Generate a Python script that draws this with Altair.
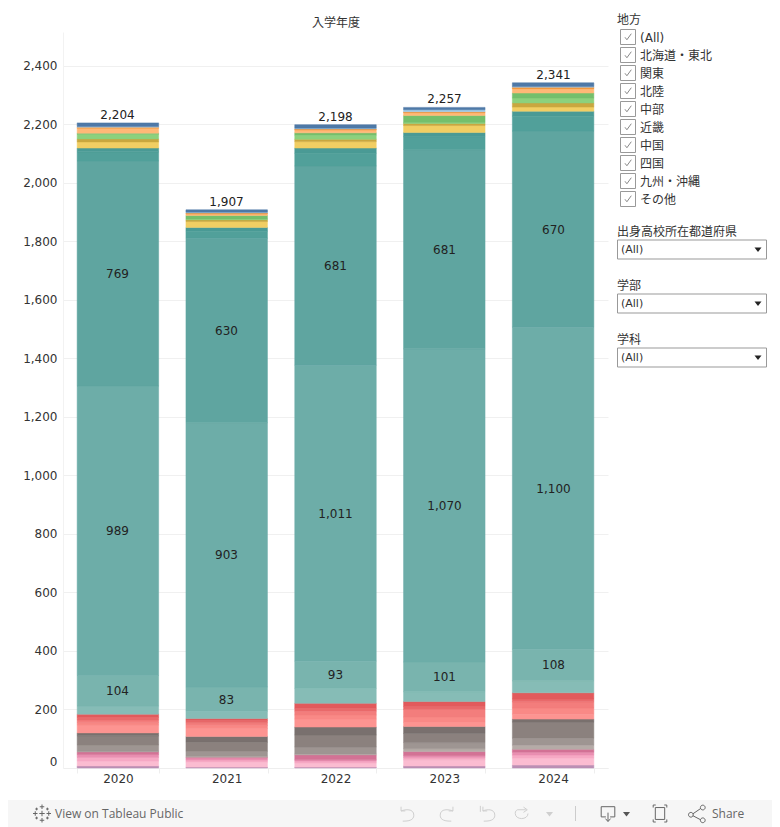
import altair as alt
import pandas as pd

FONT = "DejaVu Sans, Noto Sans CJK JP"
TXT = "#333333"

years = ["2020", "2021", "2022", "2023", "2024"]
totals = [2204, 1907, 2198, 2257, 2341]
segments = ["purple", "pink1", "pink2", "pink3", "pink4", "gray1", "gray2", "gray3", "gray4",
            "red1", "red2", "red3", "red4", "red5", "teal1", "teal2", "teal3", "teal4", "teal5", "teal6",
            "yellow", "gold", "lgreen", "green", "lorange", "orange", "lblue", "blue"]
colors = ["#bb8fb4", "#fbbcd1", "#f6a9c4", "#e98fb1", "#d37295", "#b5aba7", "#9e9592", "#8b817e", "#79706e",
          "#fd9491", "#f98986", "#f37d7c", "#e96a6b", "#e25a5c", "#86bcb6", "#79b4ae", "#6dada8", "#5fa5a0", "#51a09a", "#4a9a95",
          "#f1ce63", "#c9a73f", "#8cd17d", "#74bf6c", "#ffb877", "#f28e2b", "#a0cbe8", "#4e79a7"]
v2020 = [7, 17, 12, 10, 9, 2, 22, 31, 10, 27, 8, 9, 9, 11, 28, 104, 989, 769, 31, 13, 21, 10, 16, 4, 17, 3, 3, 12]
v2021 = [3, 17, 7, 7, 3, 3, 17, 31, 20, 27, 10, 10, 7, 7, 25, 83, 903, 630, 24, 13, 20, 6, 3, 12, 5, 3, 3, 8]
v2022 = [3, 14, 7, 4, 17, 3, 24, 41, 27, 27, 14, 13, 10, 17, 51, 93, 1011, 681, 43, 18, 22, 8, 14, 8, 10, 3, 3, 12]
v2023 = [7, 21, 7, 7, 14, 10, 21, 31, 24, 14, 18, 26, 10, 17, 34, 101, 1070, 681, 44, 14, 24, 7, 3, 24, 10, 3, 7, 8]
v2024 = [10, 24, 10, 10, 10, 14, 24, 55, 10, 17, 21, 21, 10, 21, 41, 108, 1100, 670, 51, 17, 14, 14, 17, 17, 15, 5, 2, 13]
series = [v2020, v2021, v2022, v2023, v2024]
labelled = {"teal2", "teal3", "teal4"}
y_ticks = list(range(0, 2401, 200))

region_items = ["(All)", "北海道・東北", "関東", "北陸", "中部", "近畿", "中国", "四国", "九州・沖縄", "その他"]
filters = ["出身高校所在都道府県", "学部", "学科"]

rows = []
for yr, vals in zip(years, series):
    for i, (s, v) in enumerate(zip(segments, vals)):
        rows.append({"year": yr, "seg": s, "value": v, "order": i, "show": s in labelled})
df = pd.DataFrame(rows)
tot = pd.DataFrame({"year": years, "total": totals})

W, H = 545, 736
OX, OY = 63, 32
xs = alt.Scale(domain=years, paddingInner=27 / 109, paddingOuter=14 / 109)
ys = alt.Scale(domain=[0, H / 0.2927], nice=False, zero=True)
cs = alt.Scale(domain=segments, range=colors)

bars = alt.Chart(df).mark_bar(size=81.5, strokeWidth=0.5).encode(
    x=alt.X("year:N", scale=xs, title=None, axis=alt.Axis(
        labelAngle=0, labelFont=FONT, labelFontSize=12, labelColor=TXT, labelPadding=0,
        tickBand="extent", tickColor="#eeeeee", tickSize=5, domainColor="#eeeeee", grid=False)),
    y=alt.Y("value:Q", stack="zero", scale=ys, title=None, axis=alt.Axis(
        values=y_ticks, labelExpr="format(datum.value, ',')", labelFont=FONT, labelFontSize=12,
        labelColor=TXT, labelPadding=6,
        ticks=False, domainColor="#f2f2f2", grid=True, gridColor="#f0f0f0",
        labelOffset={"condition": {"test": "datum.value === 0", "value": -7}, "value": 0})),
    color=alt.Color("seg:N", scale=cs, legend=None),
    stroke=alt.Stroke("seg:N", scale=cs, legend=None),
    order=alt.Order("order:Q"),
)
seg_labels = alt.Chart(df).transform_stack(
    stack="value", as_=["y0", "y1"], groupby=["year"], sort=[alt.SortField("order")]
).transform_calculate(mid="(datum.y0 + datum.y1) / 2").transform_filter("datum.show").mark_text(
    font=FONT, fontSize=12, color="#222222", dy=0.5
).encode(
    x=alt.X("year:N", scale=xs, axis=None),
    y=alt.Y("mid:Q", scale=ys, axis=None),
    text=alt.Text("value:Q", format=","),
)
tot_labels = alt.Chart(tot).mark_text(font=FONT, fontSize=12, color="#222222", baseline="bottom", dy=-1).encode(
    x=alt.X("year:N", scale=xs, axis=None),
    y=alt.Y("total:Q", scale=ys, axis=None),
    text=alt.Text("total:Q", format=","),
)

def P(x): return x - OX
def Q(y): return y - OY

def rects(data, **style):
    return alt.Chart(pd.DataFrame(data)).mark_rect(**style).encode(
        x=alt.X("x0:Q", scale=None, axis=None), x2="x1:Q",
        y=alt.Y("y0:Q", scale=None, axis=None), y2="y1:Q")

def texts(data, **style):
    base = dict(font=FONT, fontSize=12, color=TXT, align="left", baseline="middle")
    base.update(style)
    return alt.Chart(pd.DataFrame(data)).mark_text(**base).encode(
        x=alt.X("x:Q", scale=None, axis=None), y=alt.Y("y:Q", scale=None, axis=None), text="t:N")

def icon(path, x, y, d, color="#666666", filled=False, width=1):
    style = dict(shape=path, size=d * d, filled=filled, opacity=1)
    if filled:
        style.update(fill=color, strokeWidth=0)
    else:
        style.update(stroke=color, strokeWidth=width)
    return alt.Chart(pd.DataFrame({"x": [P(x)], "y": [Q(y)]})).mark_point(**style).encode(
        x=alt.X("x:Q", scale=None, axis=None), y=alt.Y("y:Q", scale=None, axis=None))

# invisible frame: fixes the page bounds of the drawing
page = rects({"x0": [P(8)], "x1": [P(772)], "y0": [Q(8)], "y1": [Q(827)]}, color="#ffffff", opacity=0)
toolbar = rects({"x0": [P(8)], "x1": [P(772)], "y0": [Q(800)], "y1": [Q(827)]}, color="#f6f6f6")

title = texts({"x": [P(336)], "y": [Q(23)], "t": ["入学年度"]}, align="center")

layers = [page, bars, seg_labels, tot_labels, title, toolbar]

rows_y = [37 + 18 * i for i in range(len(region_items))]
layers.append(texts({"x": [P(617)], "y": [Q(20)], "t": ["地方"]}))
layers.append(rects({"x0": [P(620.5)] * 10, "x1": [P(635.5)] * 10,
                     "y0": [Q(y - 7.5) for y in rows_y], "y1": [Q(y + 7.5) for y in rows_y]},
                    fill="#ffffff", stroke="#999999", strokeWidth=1))
check = "M-0.55,0.05 L-0.2,0.5 L0.6,-0.6"
for y in rows_y:
    layers.append(icon(check, 628, y, 11, "#888888"))
layers.append(texts({"x": [P(640)] * 10, "y": [Q(y + 1) for y in rows_y], "t": region_items}))

head_y = [232, 286, 340]
box_y = [249.5, 303.5, 357.5]
layers.append(texts({"x": [P(617)] * 3, "y": [Q(y) for y in head_y], "t": filters}))
layers.append(rects({"x0": [P(617.5)] * 3, "x1": [P(766.5)] * 3,
                     "y0": [Q(y - 9.5) for y in box_y], "y1": [Q(y + 9.5) for y in box_y]},
                    fill="#ffffff", stroke="#999999", strokeWidth=1))
layers.append(texts({"x": [P(621)] * 3, "y": [Q(y) for y in box_y], "t": ["(All)"] * 3}, fontSize=11))
tri = "M-1,-0.6 L1,-0.6 L0,0.7 Z"
for y in box_y:
    layers.append(icon(tri, 758, y, 7, "#222222", filled=True))

layers.append(texts({"x": [P(55), P(712)], "y": [Q(813.5), Q(813.5)], "t": ["View on Tableau Public", "Share"]},
                    fontSize=12, color="#666666", font="Open Sans, DejaVu Sans"))
logo = ("M0,-1 L0,-0.5 M-0.25,-0.75 L0.25,-0.75 M0,0.5 L0,1 M-0.25,0.75 L0.25,0.75 "
        "M-1,0 L-0.5,0 M-0.75,-0.25 L-0.75,0.25 M0.5,0 L1,0 M0.75,-0.25 L0.75,0.25 "
        "M0,-0.3 L0,0.3 M-0.3,0 L0.3,0 M-0.6,-0.65 L-0.6,-0.35 M-0.75,-0.5 L-0.45,-0.5 "
        "M0.6,-0.65 L0.6,-0.35 M0.45,-0.5 L0.75,-0.5 M-0.6,0.35 L-0.6,0.65 M-0.75,0.5 L-0.45,0.5 "
        "M0.6,0.35 L0.6,0.65 M0.45,0.5 L0.75,0.5")
layers.append(icon(logo, 42, 813.5, 18, "#666666"))
undo = "M-0.7,-0.8 L-0.7,-0.3 L-0.2,-0.3 M-0.7,-0.3 C-0.2,-0.5 0.8,-0.6 0.8,0.2 C0.8,0.8 0.2,0.9 -0.5,0.9"
redo = "M0.7,-0.8 L0.7,-0.3 L0.2,-0.3 M0.7,-0.3 C0.2,-0.5 -0.8,-0.6 -0.8,0.2 C-0.8,0.8 -0.2,0.9 0.5,0.9"
revert = "M-0.9,-0.9 L-0.9,-0.2 M-0.6,-0.8 L-0.6,-0.3 L-0.1,-0.3 M-0.6,-0.3 C-0.2,-0.5 0.8,-0.6 0.8,0.2 C0.8,0.8 0.2,0.9 -0.5,0.9"
refresh = "M-0.6,-0.5 L0.5,-0.5 M0.2,-0.85 L0.7,-0.5 L0.2,-0.15 M0.8,0 C0.8,0.9 -0.9,0.9 -0.9,0 C-0.9,-0.3 -0.8,-0.4 -0.6,-0.5"
for p, x, d in [(undo, 407, 17), (redo, 447, 17), (revert, 488, 17), (refresh, 522, 15)]:
    layers.append(icon(p, x, 813.5, d, "#cfcfcf"))
layers.append(icon(tri, 549.5, 814, 7, "#cfcfcf", filled=True))
layers.append(rects({"x0": [P(575)], "x1": [P(576)], "y0": [Q(806)], "y1": [Q(821)]}, color="#cccccc"))
download = "M-0.8,0.4 L-0.8,-0.8 L0.8,-0.8 L0.8,0.4 L0.25,0.4 M-0.25,0.4 L-0.8,0.4 M0,-0.1 L0,0.9 M-0.3,0.6 L0,0.95 L0.3,0.6"
layers.append(icon(download, 608, 813.5, 17, "#666666"))
layers.append(icon(tri, 626.5, 814, 7, "#555555", filled=True))
fit = ("M-0.5,-1 L-0.8,-1 L-0.8,-0.7 M0.5,-1 L0.8,-1 L0.8,-0.7 M-0.5,1 L-0.8,1 L-0.8,0.7 M0.5,1 L0.8,1 L0.8,0.7 "
       "M-0.55,-0.7 L0.55,-0.7 L0.55,0.7 L-0.55,0.7 Z")
layers.append(icon(fit, 660, 813.5, 17, "#666666"))
share = ("M-0.5,0.05 L0.45,-0.6 M-0.5,0.25 L0.45,0.75 M-1,0.15 A0.28,0.28 0 1 0 -0.44,0.15 A0.28,0.28 0 1 0 -1,0.15 "
         "M0.4,-0.7 A0.28,0.28 0 1 0 0.96,-0.7 A0.28,0.28 0 1 0 0.4,-0.7 "
         "M0.4,0.8 A0.28,0.28 0 1 0 0.96,0.8 A0.28,0.28 0 1 0 0.4,0.8")
layers.append(icon(share, 697, 813.5, 17, "#666666"))

chart = alt.layer(*layers).resolve_scale(x="independent", y="independent", color="independent", stroke="independent").resolve_axis(
    x="independent", y="independent"
).properties(width=W, height=H, padding=0).configure_view(stroke=None)

chart.save("out.html", embed_options={"renderer": "svg", "actions": False})
